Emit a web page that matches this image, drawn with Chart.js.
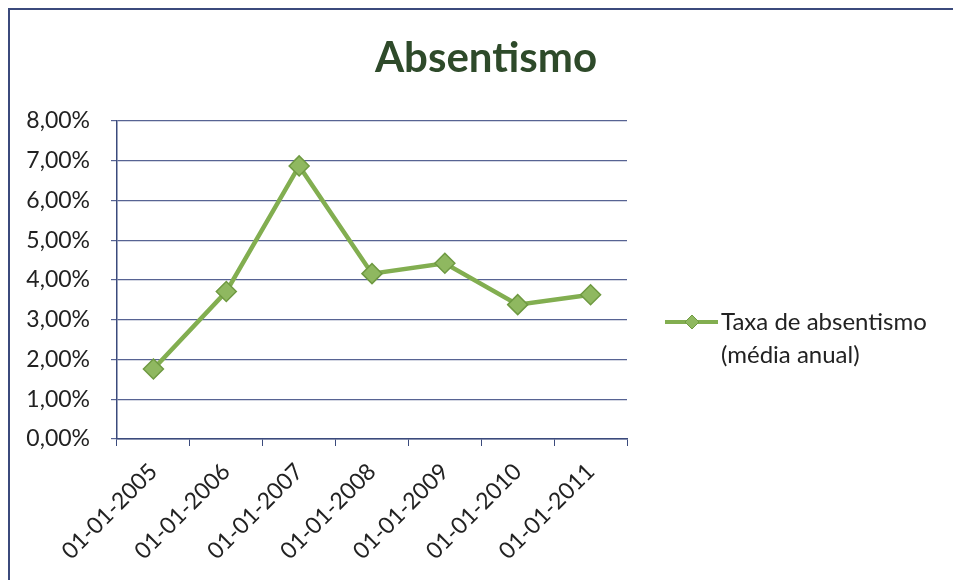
<!DOCTYPE html>
<html lang="pt">
<head>
<meta charset="utf-8">
<title>Absentismo</title>
<script src="https://cdn.jsdelivr.net/npm/chart.js@4/dist/chart.umd.min.js"></script>
<style>
    html, body { margin: 0; padding: 0; background: #fff; }
    #wrap { width: 953px; height: 580px; position: relative; }
</style>
</head>
<body>
<div id="wrap"><canvas id="absentismoChart"></canvas></div>
<script>
// Taxa de absentismo (média anual), em %
const anos = ['01-01-2005', '01-01-2006', '01-01-2007', '01-01-2008', '01-01-2009', '01-01-2010', '01-01-2011'];
const taxaAbsentismo = [1.76, 3.71, 6.87, 4.16, 4.42, 3.38, 3.63];
const serieNome = ['Taxa de absentismo', '(média anual)'];
const titulo = 'Absentismo';

const FONT = 'Lato, "Open Sans", sans-serif';
const verde = '#82ae50';
const verdeEscuro = '#6f9a42';
const azulEixo = '#3b4a7c';
const azulGrelha = 'rgba(58, 72, 128, 0.85)';
const corTexto = '#222';

// moldura e título (centrado na largura da folha, não na área do gráfico)
const moldura = {
    id: 'moldura',
    beforeDraw(chart) {
        const ctx = chart.ctx;
        ctx.save();
        ctx.strokeStyle = azulEixo;
        ctx.lineWidth = 2;
        ctx.beginPath();
        ctx.moveTo(9, chart.height);
        ctx.lineTo(9, 9);
        ctx.lineTo(chart.width, 9);
        ctx.stroke();
        ctx.fillStyle = '#2e4a2a';
        ctx.font = 'bold 42px ' + FONT;
        ctx.textAlign = 'center';
        ctx.textBaseline = 'middle';
        ctx.fillText(titulo, 486, 58);
        ctx.restore();
    }
};

// legenda em duas linhas à direita
const legendaDireita = {
    id: 'legendaDireita',
    afterDraw(chart) {
        const ctx = chart.ctx;
        const area = chart.chartArea;
        const x0 = area.right + 38;
        const y0 = area.top + 201;
        ctx.save();
        ctx.strokeStyle = verde;
        ctx.lineWidth = 4;
        ctx.beginPath();
        ctx.moveTo(x0, y0);
        ctx.lineTo(x0 + 53, y0);
        ctx.stroke();
        const cx = x0 + 27, r = 7;
        ctx.fillStyle = '#8fb860';
        ctx.strokeStyle = verdeEscuro;
        ctx.lineWidth = 1;
        ctx.beginPath();
        ctx.moveTo(cx, y0 - r);
        ctx.lineTo(cx + r, y0);
        ctx.lineTo(cx, y0 + r);
        ctx.lineTo(cx - r, y0);
        ctx.closePath();
        ctx.fill();
        ctx.stroke();
        ctx.fillStyle = corTexto;
        ctx.font = '24px ' + FONT;
        ctx.textBaseline = 'middle';
        ctx.textAlign = 'left';
        serieNome.forEach((linha, i) => {
            ctx.fillText(linha, x0 + 56, y0 + i * 33);
        });
        ctx.restore();
    }
};

function initAbsentismoChart() {
    const ctx = document.getElementById('absentismoChart').getContext('2d');
    new Chart(ctx, {
        type: 'line',
        data: {
            labels: anos,
            datasets: [{
                label: serieNome.join(' '),
                data: taxaAbsentismo,
                borderColor: verde,
                borderWidth: 4.5,
                backgroundColor: '#8fb860',
                pointStyle: 'rectRot',
                pointRadius: 10,
                pointBorderColor: verdeEscuro,
                pointBorderWidth: 1.5,
                tension: 0
            }]
        },
        options: {
            responsive: true,
            maintainAspectRatio: false,
            animation: false,
            layout: { padding: { left: 10, right: 326, top: 121, bottom: 8 } },
            plugins: {
                legend: { display: false },
                tooltip: { enabled: false },
                title: { display: false }
            },
            scales: {
                x: {
                    offset: true,
                    afterFit: (scale) => { scale.height = 580 - 8 - 439; },
                    grid: {
                        offset: true,
                        drawOnChartArea: false,
                        drawTicks: true,
                        tickLength: 7,
                        color: azulEixo
                    },
                    border: { color: azulEixo, width: 1.5 },
                    ticks: {
                        color: corTexto,
                        font: { family: FONT, size: 23 },
                        minRotation: 45,
                        maxRotation: 45,
                        padding: 12
                    }
                },
                y: {
                    min: 0,
                    max: 8,
                    afterFit: (scale) => { scale.width = 107; },
                    grid: {
                        color: azulGrelha,
                        lineWidth: 1.2,
                        tickLength: 6
                    },
                    border: { color: azulEixo, width: 1.5 },
                    ticks: {
                        stepSize: 1,
                        color: corTexto,
                        font: { family: FONT, size: 23 },
                        padding: 21,
                        callback: (v) => v.toFixed(2).replace('.', ',') + '%'
                    }
                }
            }
        },
        plugins: [moldura, legendaDireita]
    });
}

document.addEventListener('DOMContentLoaded', () => {
    initAbsentismoChart();
});
</script>
</body>
</html>
